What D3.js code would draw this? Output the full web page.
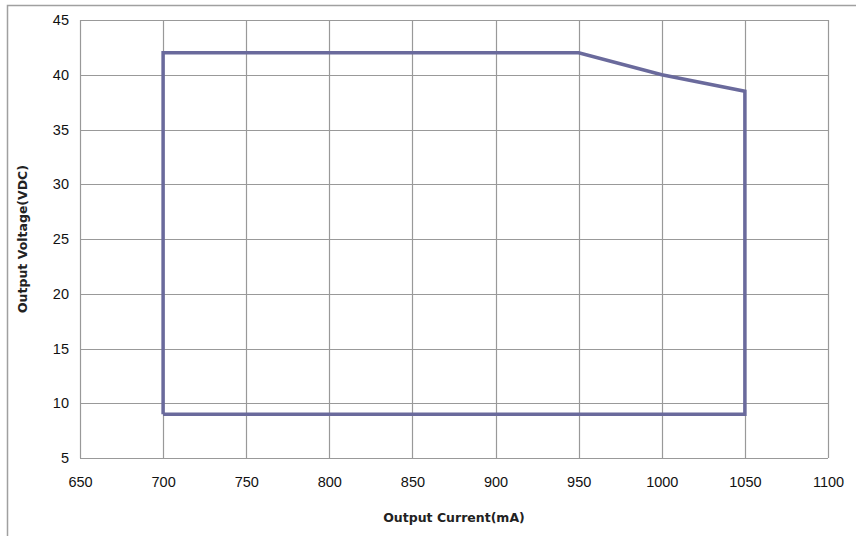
<!DOCTYPE html>
<html>
<head>
<meta charset="utf-8">
<script src="https://cdn.jsdelivr.net/npm/d3@7"></script>
<style>
  body { margin: 0; background: #fff; }
</style>
</head>
<body>
<svg id="chart"></svg>
<script>
// Operating area outline (current mA, voltage VDC)
const currents = [700, 700, 950, 1000, 1050, 1050, 700];
const voltages = [9, 42, 42, 40, 38.5, 9, 9];
const xTicks = [650, 700, 750, 800, 850, 900, 950, 1000, 1050, 1100];
const yTicks = [5, 10, 15, 20, 25, 30, 35, 40, 45];

const W = 856, H = 536;
const margin = { top: 20, right: 28, bottom: 78, left: 80 };
const width = W - margin.left - margin.right;
const height = H - margin.top - margin.bottom;

const svg = d3.select("#chart").attr("width", W).attr("height", H);

// outer frame (only top and left visible)
svg.append("path")
  .attr("d", `M7.5,${H} V5.5 H${W}`)
  .attr("fill", "none")
  .attr("stroke", "#a0a0a0")
  .attr("stroke-width", 1.5);

const g = svg.append("g").attr("transform", `translate(${margin.left},${margin.top})`);

const x = d3.scaleLinear().domain([650, 1100]).range([0, width]);
const y = d3.scaleLinear().domain([5, 45]).range([height, 0]);

// grid
g.append("g")
  .selectAll("line")
  .data(xTicks)
  .join("line")
  .attr("x1", d => Math.round(x(d)) + 0.5)
  .attr("x2", d => Math.round(x(d)) + 0.5)
  .attr("y1", 0)
  .attr("y2", height)
  .attr("stroke", "#999")
  .attr("stroke-width", 1.2);

g.append("g")
  .selectAll("line")
  .data(yTicks)
  .join("line")
  .attr("x1", 0)
  .attr("x2", width)
  .attr("y1", d => Math.round(y(d)) + 0.5)
  .attr("y2", d => Math.round(y(d)) + 0.5)
  .attr("stroke", "#999")
  .attr("stroke-width", 1.2);

// axes labels
const xAxis = g.append("g")
  .attr("transform", `translate(0,${height})`)
  .call(d3.axisBottom(x).tickValues(xTicks).tickFormat(d3.format("d")).tickSize(0).tickPadding(19));
xAxis.select(".domain").remove();
xAxis.selectAll("text")
  .style("font-size", "14.5px")
  .style("font-family", "'Liberation Sans', sans-serif")
  .attr("fill", "#111");

const yAxis = g.append("g")
  .call(d3.axisLeft(y).tickValues(yTicks).tickFormat(d3.format("d")).tickSize(0).tickPadding(11));
yAxis.select(".domain").remove();
yAxis.selectAll("text")
  .style("font-size", "14.5px")
  .style("font-family", "'Liberation Sans', sans-serif")
  .attr("fill", "#111");

// outline
const pts = currents.map((c, i) => [c, voltages[i]]);
g.append("path")
  .datum(pts)
  .attr("fill", "none")
  .attr("stroke", "#6a6a9c")
  .attr("stroke-width", 3.5)
  .attr("stroke-linejoin", "miter")
  .attr("d", d3.line().x(d => x(d[0])).y(d => y(d[1])));

// titles
svg.append("text")
  .attr("x", margin.left + width / 2)
  .attr("y", 522)
  .attr("text-anchor", "middle")
  .style("font-family", "'DejaVu Sans', sans-serif")
  .style("font-size", "12.5px")
  .style("font-weight", "bold")
  .attr("fill", "#222")
  .text("Output Current(mA)");

svg.append("text")
  .attr("transform", `translate(27,${margin.top + height / 2}) rotate(-90)`)
  .attr("text-anchor", "middle")
  .style("font-family", "'DejaVu Sans', sans-serif")
  .style("font-size", "12.5px")
  .style("font-weight", "bold")
  .attr("fill", "#222")
  .text("Output Voltage(VDC)");
</script>
</body>
</html>
